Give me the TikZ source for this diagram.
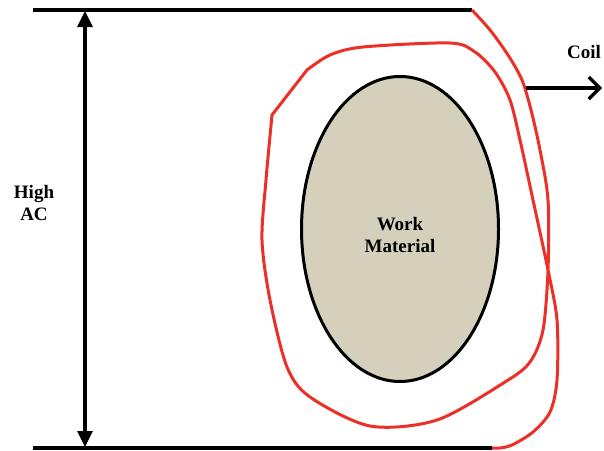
\documentclass[tikz,border=0pt]{standalone}
\usepackage{fontspec}
\setmainfont{Liberation Serif}
\usepackage{tikz}
\usetikzlibrary{arrows.meta,shapes.geometric}
\definecolor{coilred}{RGB}{236,48,40}
\definecolor{workfill}{RGB}{213,208,188}

\begin{document}
\begin{tikzpicture}[
    x=1pt, y=-1pt,
    plate/.style={line width=3.2pt, black},
    label/.style={font=\fontsize{19}{22}\selectfont\bfseries, align=center},
    coilline/.style={line width=3pt, coilred, line join=round}
]
\useasboundingbox (0,0) rectangle (604,450);

% plates
\coordinate (topL) at (33,10);
\coordinate (topR) at (472,10);
\coordinate (botL) at (33,448);
\coordinate (botR) at (492,448);
\draw[plate] (topL) -- (topR);
\draw[plate] (botL) -- (botR);

% voltage between plates
\coordinate (vtop) at (85,11);
\coordinate (vbot) at (85,447);
\draw[plate, {Triangle[width=15pt,length=16pt]}-{Triangle[width=15pt,length=16pt]}] (vtop) -- (vbot);
\node[label] (hv) at (34,203) {High\\AC};

% work piece
\node[ellipse, draw, line width=3pt, fill=workfill, minimum width=197pt, minimum height=305pt] (work) at (400,229) {};
\node[label] (wm) at (400,235) {Work\\Material};

% coil
\draw[coilline] plot[smooth, tension=0.5] coordinates {
    (472,10) (490,30) (508,55) (522,80) (531,110) (540,150) (548,200) (548,270)
    (543,330) (530,362) (505,382) (437,420) (370,426)
    (310,397) (287,367) (270,300) (262,240) (266,180) (272,115)}
    -- plot[smooth, tension=0.5] coordinates {
    (307,70) (330,55) (363,47) (450,43) (475,52) (495,72) (510,100) (520,140)
    (533,200) (548,270) (557,320) (557,380) (550,412) (533,432) (512,445) (500,448)}
    -- (botR);

% coil label
\coordinate (ctip) at (602,88);
\node[coordinate] (cstart) at (526,88) {};
\draw[plate, -{Straight Barb[length=11pt,width=22pt,line width=3.2pt]}] (cstart) -- (ctip);
\node[label] (coil) at (584,52) {Coil};
\end{tikzpicture}
\end{document}
